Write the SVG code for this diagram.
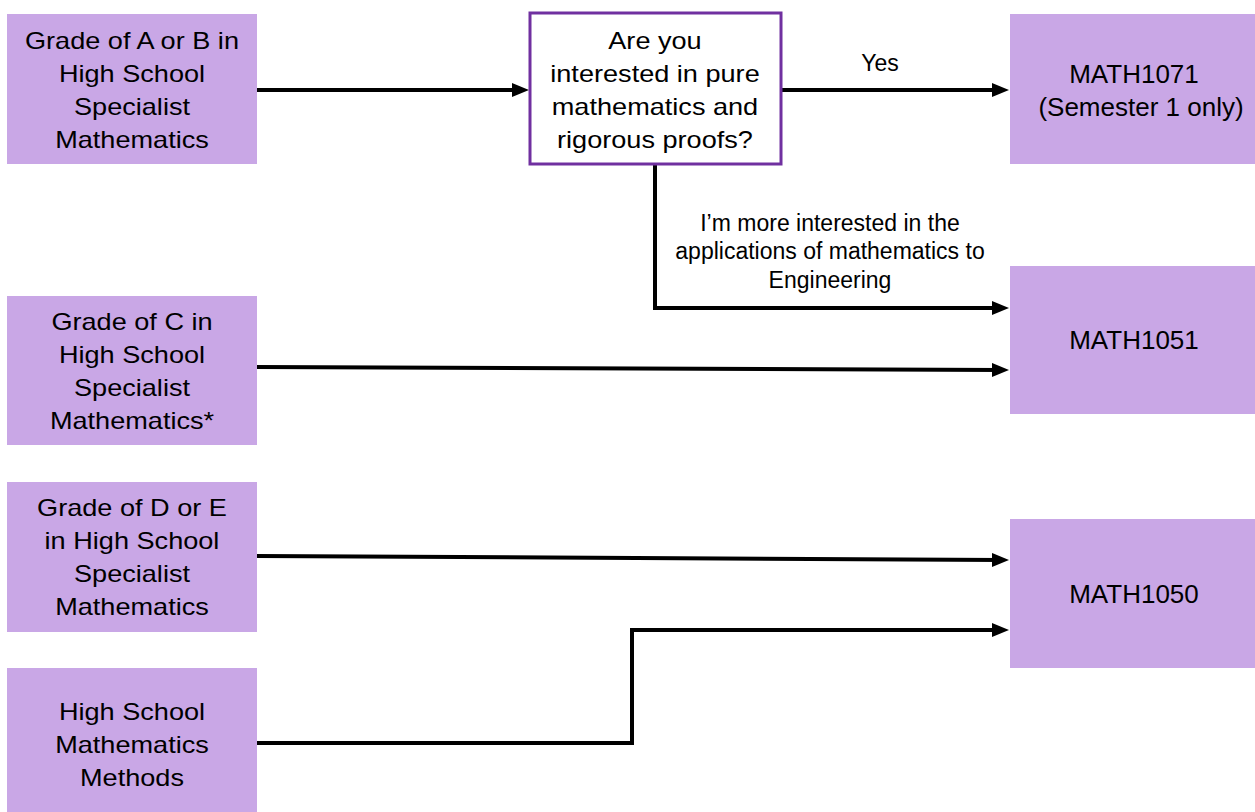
<svg xmlns="http://www.w3.org/2000/svg" width="1255" height="812" viewBox="0 0 1255 812">
<defs>
<marker id="ah" markerUnits="userSpaceOnUse" markerWidth="17" markerHeight="14" refX="9" refY="7" orient="auto">
<path d="M0,0 L17,7 L0,14 z" fill="#000"/>
</marker>
</defs>
<style>
.box{fill:#C9A7E6;}
.dec{fill:#fff;stroke:#7030A0;stroke-width:3;}
.t{font-family:"Liberation Sans",Arial,sans-serif;font-size:24px;fill:#000;text-anchor:middle;}
.r{font-family:"Liberation Sans",Arial,sans-serif;font-size:26px;fill:#000;text-anchor:middle;}
.l{font-family:"Liberation Sans",Arial,sans-serif;font-size:23px;fill:#000;text-anchor:middle;}
.c{fill:none;stroke:#000;stroke-width:4;marker-end:url(#ah);}
</style>
<rect width="1255" height="812" fill="#fff"/>
<g id="connectors">
<path class="c" d="M257,90 L521,90"/>
<path class="c" d="M781,90 L1001,90"/>
<path class="c" d="M655,164 L655,308 L1001,308"/>
<path class="c" d="M257,367 L1001,370"/>
<path class="c" d="M257,556 L1001,560"/>
<path class="c" d="M257,743 L632,743 L632,630 L1001,630"/>
<text class="l" x="880" y="71">Yes</text>
<text class="l" x="830" y="231">I’m more interested in the</text>
<text class="l" x="830" y="259">applications of mathematics to</text>
<text class="l" x="830" y="288">Engineering</text>
</g>
<g id="n_ab">
<rect class="box" x="7" y="14" width="250" height="150"/>
<g transform="matrix(1.13,0,0,1,-17.16,0)">
<text class="t" x="132" y="49.5">Grade of A or B in</text>
<text class="t" x="132" y="82.5">High School</text>
<text class="t" x="132" y="115.5">Specialist</text>
<text class="t" x="132" y="148.5">Mathematics</text>
</g>
</g>
<g id="n_c">
<rect class="box" x="7" y="296" width="250" height="149"/>
<g transform="matrix(1.13,0,0,1,-17.16,0)">
<text class="t" x="132" y="330.5">Grade of C in</text>
<text class="t" x="132" y="363.5">High School</text>
<text class="t" x="132" y="396.5">Specialist</text>
<text class="t" x="132" y="429.5">Mathematics*</text>
</g>
</g>
<g id="n_de">
<rect class="box" x="7" y="482" width="250" height="150"/>
<g transform="matrix(1.13,0,0,1,-17.16,0)">
<text class="t" x="132" y="516.5">Grade of D or E</text>
<text class="t" x="132" y="549.5">in High School</text>
<text class="t" x="132" y="582.5">Specialist</text>
<text class="t" x="132" y="615.5">Mathematics</text>
</g>
</g>
<g id="n_methods">
<rect class="box" x="7" y="668" width="250" height="144"/>
<g transform="matrix(1.13,0,0,1,-17.16,0)">
<text class="t" x="132" y="720.5">High School</text>
<text class="t" x="132" y="753.5">Mathematics</text>
<text class="t" x="132" y="786.5">Methods</text>
</g>
</g>
<g id="n_decision">
<rect class="dec" x="530" y="13" width="251" height="151"/>
<g transform="matrix(1.13,0,0,1,-85.15,0)">
<text class="t" x="655" y="49.5">Are you</text>
<text class="t" x="655" y="82.5">interested in pure</text>
<text class="t" x="655" y="115.5">mathematics and</text>
<text class="t" x="655" y="148.5">rigorous proofs?</text>
</g>
</g>
<g id="n_1071">
<rect class="box" x="1010" y="14" width="245" height="150"/>
<text class="r" x="1134" y="83">MATH1071</text>
<text class="r" x="1141" y="116">(Semester 1 only)</text>
</g>
<g id="n_1051">
<rect class="box" x="1010" y="266" width="245" height="148"/>
<text class="r" x="1134" y="349">MATH1051</text>
</g>
<g id="n_1050">
<rect class="box" x="1010" y="519" width="245" height="149"/>
<text class="r" x="1134" y="603">MATH1050</text>
</g>
</svg>
